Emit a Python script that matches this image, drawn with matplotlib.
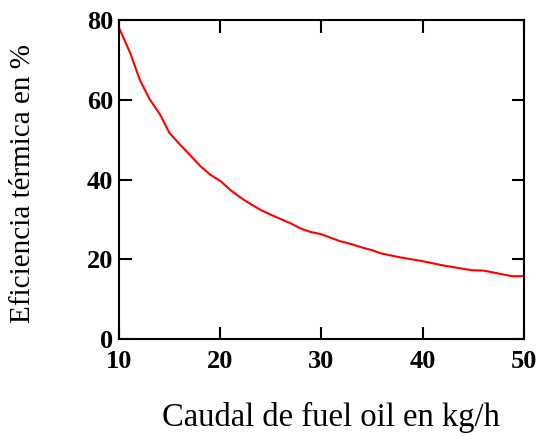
import matplotlib
matplotlib.use("Agg")
import matplotlib.pyplot as plt

# caudal de fuel oil (kg/h) y eficiencia termica (%)
caudal = [10, 11.15, 12.07, 13.06, 14.1, 15.0, 16.0, 17.2, 18.0, 19.0, 20.1, 21.1,
          22.3, 23, 24, 25, 26, 27, 27.9, 28.9, 30.0, 31.8, 33.0, 34.0, 35.0, 35.9,
          37.8, 39.9, 42.0, 44.8, 46.0, 48.8, 50]
eficiencia = [78.2, 71.6, 65.0, 60.1, 56.2, 51.7, 48.9, 45.7, 43.5, 41.3, 39.5, 37.2,
              35.0, 33.9, 32.4, 31.2, 30.1, 29.0, 27.8, 26.9, 26.3, 24.6, 23.8, 23.0,
              22.3, 21.5, 20.5, 19.6, 18.5, 17.3, 17.2, 15.8, 15.8]
xticks = [10, 20, 30, 40, 50]
yticks = [0, 20, 40, 60, 80]

plt.rcParams["font.family"] = "Liberation Serif"

fig = plt.figure(figsize=(5.5, 4.36), dpi=100)
ax = fig.add_axes([0.216, 0.222, 0.737, 0.732])
ax.plot(caudal, eficiencia, color="red", linewidth=1.5)

ax.set_xlim(10, 50)
ax.set_ylim(0, 80)
ax.set_xticks(xticks)
ax.set_yticks(yticks)
ax.tick_params(direction="in", length=9, width=1.5, top=True, right=True,
               labelsize=19)
ax.tick_params(axis="x", pad=8)
ax.tick_params(axis="y", pad=4)
for lab in ax.get_xticklabels() + ax.get_yticklabels():
    lab.set_fontweight("bold")
for s in ax.spines.values():
    s.set_linewidth(1.5)

ax.set_xlabel("Caudal de fuel oil en kg/h", fontsize=23.5)
ax.set_ylabel("Eficiencia térmica en %", fontsize=21)
ax.xaxis.set_label_coords(0.524, -0.195)
ax.yaxis.set_label_coords(-0.205, 0.489)

fig.savefig("out.png", dpi=100)
